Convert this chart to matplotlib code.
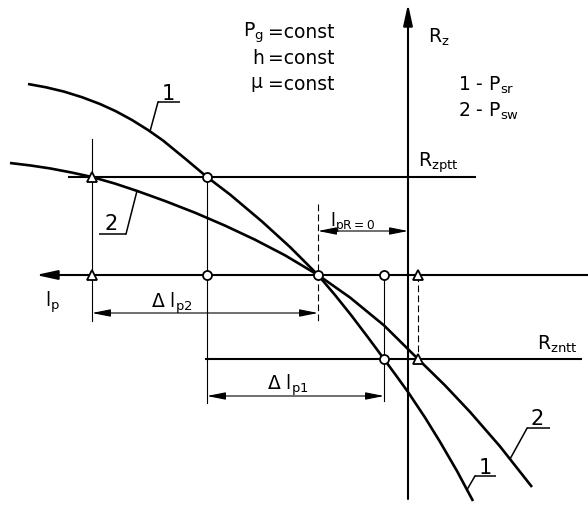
import numpy as np
import matplotlib
matplotlib.use("Agg")
import matplotlib.pyplot as plt

plt.rcParams["font.family"] = ["DejaVu Sans"]
plt.rcParams["mathtext.default"] = "regular"

# Diagram units: lp grows to the left, Rz grows upward, origin at the axes crossing.
# Curve 1 (P_sr)
curve1_lp = [38.0, 36.2, 34.4, 32.6, 30.8, 29.2, 27.6, 26.0, 24.5, 22.3, 20.1, 17.8, 14.6,
             11.8, 9.0, 7.3, 5.7, 4.0, 2.4, 1.2, 0.0, -1.7, -3.2, -4.9, -6.5]
curve1_rz = [19.1, 18.77, 18.34, 17.78, 17.1, 16.37, 15.5, 14.5, 13.45, 11.65, 9.8, 8.05, 5.35,
             2.8, 0.0, -2.0, -4.0, -6.24, -8.4, -10.04, -11.7, -14.25, -16.68, -19.6, -22.6]
# Curve 2 (P_sw)
curve2_lp = [39.8, 37.8, 35.8, 33.6, 31.6, 29.3, 27.1, 24.3, 21.3, 18.3, 15.3, 12.3, 9.0,
             5.8, 2.4, -1.0, -3.7, -6.2, -9.2, -12.4]
curve2_rz = [11.2, 10.96, 10.66, 10.24, 9.8, 9.14, 8.41, 7.4, 6.23, 4.94, 3.53, 1.97, 0.0,
             -2.25, -5.04, -8.4, -11.04, -13.69, -17.14, -21.2]

# Reference load levels
rz_ptt = 9.8
rz_ntt = -8.4

# Characteristic lp values
lp2_ptt = 31.6     # curve 2 meets Rz_ptt
lp1_ptt = 20.1     # curve 1 meets Rz_ptt
lp_r0 = 9.0        # curves cross at Rz = 0
lp1_ntt = 2.4      # curve 1 meets Rz_ntt
lp2_ntt = -1.0     # curve 2 meets Rz_ntt

fig = plt.figure(figsize=(5.88, 5.06), dpi=100)
ax = fig.add_axes([0, 0, 1, 1])
ax.set_xlim(40.8, -18.0)
ax.set_ylim(-23.0, 27.6)
ax.axis("off")

K = "black"
thick, mid, thin = 1.9, 1.5, 0.8


def on_curve(lps, rzs, lp):
    order = np.argsort(lps)
    return float(np.interp(lp, np.asarray(lps)[order], np.asarray(rzs)[order]))


# Coordinate axes with arrowheads
ax.annotate("", xy=(37.2, 0), xytext=(-18.0, 0),
            arrowprops=dict(arrowstyle="-|>,head_length=1.6,head_width=0.35",
                            mutation_scale=8, lw=mid, color=K, shrinkA=0, shrinkB=0))
ax.annotate("", xy=(0, 27.1), xytext=(0, -22.4),
            arrowprops=dict(arrowstyle="-|>,head_length=1.6,head_width=0.35",
                            mutation_scale=8, lw=mid, color=K, shrinkA=0, shrinkB=0))

# Load levels
ax.plot([34.0, -6.8], [rz_ptt, rz_ptt], color=K, lw=mid, solid_capstyle="butt")
ax.plot([20.3, -17.4], [rz_ntt, rz_ntt], color=K, lw=mid, solid_capstyle="butt")

# Characteristics
ax.plot(curve1_lp, curve1_rz, color=K, lw=thick, solid_capstyle="butt", solid_joinstyle="round")
ax.plot(curve2_lp, curve2_rz, color=K, lw=thick, solid_capstyle="butt", solid_joinstyle="round")

# Projection lines
ax.plot([lp2_ptt, lp2_ptt], [13.6, -4.6], color=K, lw=thin)
ax.plot([lp1_ptt, lp1_ptt], [rz_ptt, -12.8], color=K, lw=thin)
ax.plot([lp1_ntt, lp1_ntt], [0, -12.6], color=K, lw=thin)
ax.plot([lp_r0, lp_r0], [7.1, -4.6], color=K, lw=thin, ls=(0, (6, 3)))
ax.plot([lp2_ntt, lp2_ntt], [0, rz_ntt], color=K, lw=thin, ls=(0, (6, 3)))

# Dimension lines
dim_style = dict(arrowstyle="<|-|>,head_length=1.4,head_width=0.28",
                 mutation_scale=8, lw=thin, color=K, shrinkA=0, shrinkB=0)
ax.annotate("", xy=(lp2_ptt, -3.8), xytext=(lp_r0, -3.8), arrowprops=dim_style)
ax.annotate("", xy=(lp1_ptt, -12.1), xytext=(lp1_ntt, -12.1), arrowprops=dim_style)
ax.annotate("", xy=(lp_r0, 4.4), xytext=(0, 4.4), arrowprops=dim_style)

# Operating points
tri = dict(marker="^", ms=7, mfc="white", mec=K, mew=1.3, ls="none", zorder=5)
circ = dict(marker="o", ms=6.5, mfc="white", mec=K, mew=1.3, ls="none", zorder=5)
ax.plot([lp2_ptt, lp2_ptt, lp2_ntt, lp2_ntt], [rz_ptt, 0, 0, rz_ntt], **tri)
ax.plot([lp1_ptt, lp1_ptt, lp_r0, lp1_ntt, lp1_ntt], [rz_ptt, 0, 0, 0, rz_ntt], **circ)


# Curve numbers: digit over an underline, leader from the underline to the curve
def curve_label(text, tx, ty, u_near, u_far, uy, lps, rzs, lp_hit):
    ax.text(tx, ty, text, fontsize=15, ha="center", va="baseline", color=K)
    ax.plot([u_near, u_far], [uy, uy], color=K, lw=1.1, solid_capstyle="butt")
    ax.plot([u_near, lp_hit], [uy, on_curve(lps, rzs, lp_hit)], color=K, lw=1.1)


curve_label("1", 23.95, 17.6, 25.0, 22.8, 17.3, curve1_lp, curve1_rz, 25.8)
curve_label("2", 29.7, 4.6, 28.2, 30.9, 4.1, curve2_lp, curve2_rz, 27.1)
curve_label("2", -12.95, -14.9, -11.9, -14.2, -15.33, curve2_lp, curve2_rz, -10.2)
curve_label("1", -7.7, -19.85, -6.7, -8.8, -20.1, curve1_lp, curve1_rz, -5.9)

fs = 13.5
ax.text(35.5, -2.6, "$l_p$", fontsize=fs, ha="center", va="center")
ax.text(23.6, -2.7, r"$\Delta\ l_{p2}$", fontsize=fs, ha="center", va="center")
ax.text(12.0, -10.9, r"$\Delta\ l_{p1}$", fontsize=fs, ha="center", va="center")
ax.text(5.6, 5.3, "$l_{pR=0}$", fontsize=12.5, ha="center", va="center")
ax.text(-2.0, 23.9, "$R_z$", fontsize=fs, ha="left", va="center")
ax.text(-5.0, 19.1, "1 - $P_{sr}$", fontsize=fs, ha="left", va="center")
ax.text(-5.0, 16.5, "2 - $P_{sw}$", fontsize=fs, ha="left", va="center")
ax.text(-1.0, 10.1, "$R_{zptt}$", fontsize=fs, ha="left", va="bottom")
ax.text(-12.9, -7.9, "$R_{zntt}$", fontsize=fs, ha="left", va="bottom")

for sym, rz in [("$P_g$", 24.3), ("$h$", 21.8), (r"$\mu$", 19.2)]:
    ax.text(14.4, rz, sym, fontsize=fs, ha="right", va="center")
    ax.text(14.0, rz, "=const", fontsize=fs, ha="left", va="center")

fig.savefig("out.png", dpi=100, facecolor="white")
